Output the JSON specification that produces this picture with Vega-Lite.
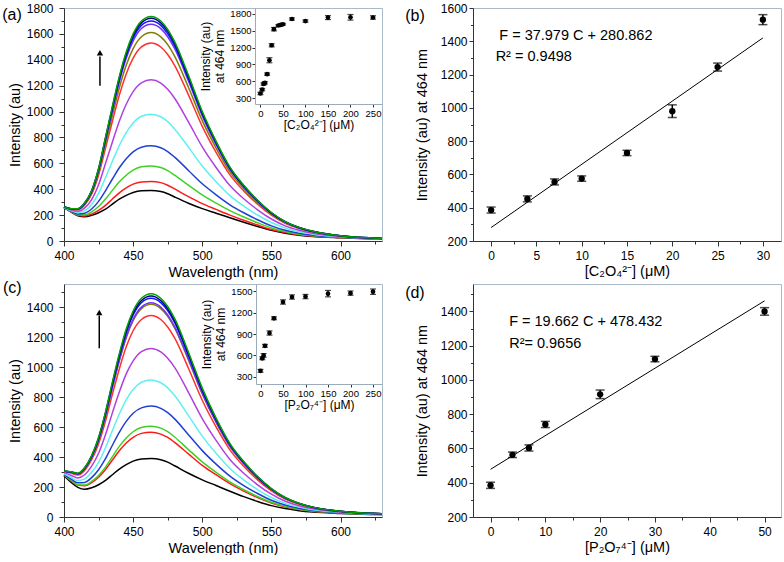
{
"$schema": "https://vega.github.io/schema/vega-lite/v6.json",
"padding": {"left": 1, "top": 1, "right": 0, "bottom": 0},
"datasets": {
"specA": [
{"w":400,"c01":258,"c02":258,"c03":259,"c04":260,"c05":261,"c06":262,"c07":264,"c08":264,"c09":265,"c10":265,"c11":265,"c12":265},
{"w":405,"c01":225,"c02":226,"c03":229,"c04":231,"c05":236,"c06":241,"c07":246,"c08":248,"c09":249,"c10":249,"c11":250,"c12":250},
{"w":410,"c01":195,"c02":198,"c03":203,"c04":209,"c05":219,"c06":230,"c07":242,"c08":245,"c09":248,"c10":249,"c11":249,"c12":250},
{"w":415,"c01":187,"c02":193,"c03":202,"c04":215,"c05":234,"c06":256,"c07":279,"c08":285,"c09":290,"c10":292,"c11":294,"c12":295},
{"w":420,"c01":198,"c02":208,"c03":225,"c04":247,"c05":282,"c06":320,"c07":361,"c08":372,"c09":381,"c10":385,"c11":388,"c12":390},
{"w":425,"c01":218,"c02":236,"c03":266,"c04":306,"c05":368,"c06":435,"c07":508,"c08":528,"c09":545,"c10":551,"c11":556,"c12":560},
{"w":430,"c01":246,"c02":275,"c03":324,"c04":388,"c05":489,"c06":598,"c07":716,"c08":749,"c09":775,"c10":786,"c11":794,"c12":800},
{"w":435,"c01":285,"c02":324,"c03":391,"c04":479,"c05":616,"c06":765,"c07":925,"c08":970,"c09":1006,"c10":1020,"c11":1032,"c12":1040},
{"w":440,"c01":323,"c02":372,"c03":457,"c04":566,"c05":738,"c06":925,"c07":1126,"c08":1182,"c09":1228,"c10":1245,"c11":1259,"c12":1270},
{"w":445,"c01":352,"c02":410,"c03":508,"c04":636,"c05":838,"c06":1056,"c07":1291,"c08":1357,"c09":1411,"c10":1431,"c11":1448,"c12":1460},
{"w":450,"c01":375,"c02":439,"c03":548,"c04":689,"c05":912,"c06":1154,"c07":1413,"c08":1486,"c09":1545,"c10":1568,"c11":1586,"c12":1600},
{"w":456,"c01":388,"c02":456,"c03":573,"c04":725,"c05":964,"c06":1222,"c07":1500,"c08":1578,"c09":1642,"c10":1666,"c11":1685,"c12":1700},
{"w":463,"c01":390,"c02":460,"c03":580,"c04":735,"c05":980,"c06":1245,"c07":1530,"c08":1610,"c09":1675,"c10":1700,"c11":1720,"c12":1735},
{"w":470,"c01":382,"c02":451,"c03":568,"c04":720,"c05":960,"c06":1220,"c07":1499,"c08":1577,"c09":1641,"c10":1666,"c11":1685,"c12":1700},
{"w":475,"c01":365,"c02":431,"c03":544,"c04":691,"c05":922,"c06":1172,"c07":1441,"c08":1517,"c09":1578,"c10":1602,"c11":1621,"c12":1635},
{"w":480,"c01":340,"c02":402,"c03":509,"c04":648,"c05":866,"c06":1103,"c07":1357,"c08":1428,"c09":1487,"c10":1509,"c11":1527,"c12":1540},
{"w":490,"c01":292,"c02":343,"c03":431,"c04":545,"c05":725,"c06":920,"c07":1129,"c08":1188,"c09":1236,"c10":1254,"c11":1269,"c12":1280},
{"w":500,"c01":250,"c02":289,"c03":356,"c04":442,"c05":579,"c06":727,"c07":886,"c08":930,"c09":967,"c10":981,"c11":992,"c12":1000},
{"w":510,"c01":215,"c02":244,"c03":293,"c04":357,"c05":458,"c06":568,"c07":685,"c08":718,"c09":745,"c10":756,"c11":764,"c12":770},
{"w":520,"c01":180,"c02":200,"c03":235,"c04":280,"c05":351,"c06":428,"c07":511,"c08":534,"c09":553,"c10":560,"c11":566,"c12":570},
{"w":530,"c01":145,"c02":160,"c03":185,"c04":218,"c05":270,"c06":326,"c07":387,"c08":404,"c09":417,"c10":423,"c11":427,"c12":430},
{"w":540,"c01":112,"c02":123,"c03":141,"c04":164,"c05":201,"c06":241,"c07":284,"c08":296,"c09":306,"c10":310,"c11":313,"c12":315},
{"w":550,"c01":82,"c02":89,"c03":101,"c04":117,"c05":143,"c06":170,"c07":199,"c08":207,"c09":214,"c10":216,"c11":218,"c12":220},
{"w":560,"c01":60,"c02":65,"c03":73,"c04":83,"c05":100,"c06":117,"c07":136,"c08":142,"c09":146,"c10":148,"c11":149,"c12":150},
{"w":570,"c01":45,"c02":48,"c03":53,"c04":60,"c05":71,"c06":83,"c07":96,"c08":99,"c09":102,"c10":103,"c11":104,"c12":105},
{"w":580,"c01":35,"c02":37,"c03":41,"c04":45,"c05":53,"c06":60,"c07":69,"c08":71,"c09":73,"c10":74,"c11":75,"c12":75},
{"w":600,"c01":25,"c02":26,"c03":27,"c04":29,"c05":32,"c06":35,"c07":38,"c08":39,"c09":39,"c10":40,"c11":40,"c12":40},
{"w":630,"c01":15,"c02":15,"c03":16,"c04":16,"c05":17,"c06":18,"c07":19,"c08":20,"c09":20,"c10":20,"c11":20,"c12":20}
],
"specC": [
{"w":400,"c01":275,"c02":280,"c03":281,"c04":285,"c05":290,"c06":296,"c07":303,"c08":305,"c09":305,"c10":306,"c11":307,"c12":307},
{"w":405,"c01":232,"c02":243,"c03":246,"c04":254,"c05":265,"c06":279,"c07":293,"c08":298,"c09":298,"c10":300,"c11":301,"c12":302},
{"w":410,"c01":198,"c02":213,"c03":216,"c04":228,"c05":243,"c06":261,"c07":280,"c08":286,"c09":287,"c10":289,"c11":291,"c12":292},
{"w":415,"c01":185,"c02":208,"c03":213,"c04":231,"c05":254,"c06":282,"c07":311,"c08":321,"c09":322,"c10":326,"c11":328,"c12":330},
{"w":420,"c01":195,"c02":229,"c03":237,"c04":263,"c05":298,"c06":339,"c07":382,"c08":396,"c09":398,"c10":404,"c11":407,"c12":410},
{"w":425,"c01":215,"c02":265,"c03":277,"c04":315,"c05":365,"c06":425,"c07":488,"c08":510,"c09":513,"c10":521,"c11":526,"c12":530},
{"w":430,"c01":244,"c02":317,"c03":333,"c04":389,"c05":462,"c06":549,"c07":640,"c08":671,"c09":675,"c10":688,"c11":694,"c12":700},
{"w":435,"c01":282,"c02":380,"c03":403,"c04":479,"c05":577,"c06":695,"c07":818,"c08":860,"c09":866,"c10":883,"c11":891,"c12":900},
{"w":440,"c01":320,"c02":442,"c03":471,"c04":565,"c05":687,"c06":834,"c07":988,"c08":1041,"c09":1048,"c10":1069,"c11":1079,"c12":1090},
{"w":445,"c01":350,"c02":494,"c03":527,"c04":638,"c05":782,"c06":955,"c07":1136,"c08":1197,"c09":1205,"c10":1230,"c11":1242,"c12":1255},
{"w":450,"c01":373,"c02":532,"c03":569,"c04":692,"c05":851,"c06":1042,"c07":1243,"c08":1311,"c09":1320,"c10":1348,"c11":1361,"c12":1375},
{"w":456,"c01":387,"c02":558,"c03":597,"c04":728,"c05":899,"c06":1104,"c07":1318,"c08":1391,"c09":1401,"c10":1431,"c11":1445,"c12":1460},
{"w":463,"c01":390,"c02":565,"c03":605,"c04":740,"c05":915,"c06":1125,"c07":1345,"c08":1420,"c09":1430,"c10":1460,"c11":1475,"c12":1490},
{"w":470,"c01":382,"c02":553,"c03":593,"c04":725,"c05":896,"c06":1102,"c07":1318,"c08":1391,"c09":1401,"c10":1431,"c11":1445,"c12":1460},
{"w":475,"c01":366,"c02":531,"c03":569,"c04":696,"c05":862,"c06":1060,"c07":1268,"c08":1339,"c09":1348,"c10":1377,"c11":1391,"c12":1405},
{"w":480,"c01":342,"c02":498,"c03":534,"c04":655,"c05":811,"c06":999,"c07":1195,"c08":1262,"c09":1271,"c10":1298,"c11":1311,"c12":1325},
{"w":490,"c01":292,"c02":421,"c03":450,"c04":549,"c05":677,"c06":832,"c07":993,"c08":1048,"c09":1056,"c10":1078,"c11":1089,"c12":1100},
{"w":500,"c01":248,"c02":345,"c03":368,"c04":443,"c05":540,"c06":657,"c07":779,"c08":821,"c09":826,"c10":843,"c11":851,"c12":860},
{"w":510,"c01":210,"c02":282,"c03":298,"c04":353,"c05":425,"c06":511,"c07":601,"c08":631,"c09":635,"c10":648,"c11":654,"c12":660},
{"w":520,"c01":172,"c02":223,"c03":234,"c04":273,"c05":324,"c06":384,"c07":448,"c08":470,"c09":473,"c10":481,"c11":486,"c12":490},
{"w":530,"c01":136,"c02":173,"c03":182,"c04":210,"c05":248,"c06":292,"c07":339,"c08":355,"c09":357,"c10":364,"c11":367,"c12":370},
{"w":540,"c01":104,"c02":130,"c03":137,"c04":157,"c05":183,"c06":215,"c07":248,"c08":259,"c09":261,"c10":266,"c11":268,"c12":270},
{"w":550,"c01":76,"c02":94,"c03":98,"c04":112,"c05":130,"c06":152,"c07":175,"c08":183,"c09":184,"c10":187,"c11":188,"c12":190},
{"w":560,"c01":56,"c02":68,"c03":71,"c04":80,"c05":91,"c06":105,"c07":120,"c08":125,"c09":126,"c10":128,"c11":129,"c12":130},
{"w":570,"c01":42,"c02":50,"c03":52,"c04":58,"c05":66,"c06":75,"c07":85,"c08":89,"c09":89,"c10":91,"c11":91,"c12":92},
{"w":580,"c01":33,"c02":38,"c03":40,"c04":44,"c05":49,"c06":55,"c07":62,"c08":64,"c09":64,"c10":65,"c11":66,"c12":66},
{"w":600,"c01":24,"c02":26,"c03":27,"c04":29,"c05":31,"c06":33,"c07":36,"c08":37,"c09":37,"c10":38,"c11":38,"c12":38},
{"w":630,"c01":16,"c02":17,"c03":17,"c04":18,"c05":19,"c06":20,"c07":21,"c08":22,"c09":22,"c10":22,"c11":22,"c12":22}
],
"insetA": [
{"c":0,"v":386,"e":20},{"c":4,"v":455,"e":20},{"c":7,"v":555,"e":20},{"c":10,"v":575,"e":20},{"c":15,"v":729,"e":20},{"c":20,"v":975,"e":45},{"c":25,"v":1240,"e":28},{"c":30,"v":1525,"e":30},{"c":40,"v":1590,"e":15},{"c":45,"v":1600,"e":15},{"c":50,"v":1612,"e":15},{"c":70,"v":1705,"e":20},{"c":100,"v":1668,"e":20},{"c":150,"v":1730,"e":35},{"c":200,"v":1735,"e":50},{"c":250,"v":1732,"e":30}
],
"insetC": [
{"c":0,"v":384,"e":20},{"c":4,"v":560,"e":20},{"c":7,"v":600,"e":25},{"c":10,"v":735,"e":20},{"c":20,"v":914,"e":30},{"c":30,"v":1120,"e":20},{"c":50,"v":1348,"e":30},{"c":70,"v":1418,"e":30},{"c":100,"v":1424,"e":30},{"c":150,"v":1465,"e":45},{"c":200,"v":1472,"e":30},{"c":250,"v":1492,"e":38}
],
"linB": [
{"c":0,"v":386,"e":18},{"c":4,"v":453,"e":18},{"c":7,"v":555,"e":18},{"c":10,"v":575,"e":16},{"c":15,"v":729,"e":16},{"c":20,"v":980,"e":38},{"c":25,"v":1245,"e":24},{"c":30,"v":1530,"e":30}
],
"fitB": [{"c":0,"v":280.862},{"c":30,"v":1420.232}],
"linD": [
{"c":0,"v":385,"e":18},{"c":4,"v":563,"e":16},{"c":7,"v":603,"e":18},{"c":10,"v":740,"e":18},{"c":20,"v":916,"e":25},{"c":30,"v":1122,"e":16},{"c":50,"v":1400,"e":22}
],
"fitD": [{"c":0,"v":478.432},{"c":50,"v":1461.532}]
},
"columns": 2,
"spacing": {"row": 0, "column": 18},
"concat": [
{
 "width": 318, "height": 233,
 "layer": [
  {"layer": [
   {"data": {"name": "specA"},
    "transform": [{"fold": ["c01","c02","c03","c04","c05","c06","c07","c08","c09","c10","c11","c12"], "as": ["curve","I"]}],
    "mark": {"type": "line", "interpolate": "monotone", "strokeWidth": 1.5},
    "encoding": {
     "x": {"field": "w", "type": "quantitative", "scale": {"domain": [400, 630], "nice": false, "zero": false},
           "axis": {"orient": "bottom", "title": "Wavelength (nm)", "values": [400,450,500,550,600], "tickCount": 30, "format": "d", "labelOverlap": false, "labelPadding": 4, "titlePadding": 4}},
     "y": {"field": "I", "type": "quantitative", "scale": {"domain": [0, 1800], "nice": false},
           "axis": {"orient": "left", "title": "Intensity (au)", "values": [0,200,400,600,800,1000,1200,1400,1600,1800], "tickCount": 30, "format": "d", "labelOverlap": false, "labelPadding": 6, "titlePadding": 4}},
     "color": {"field": "curve", "type": "nominal", "legend": null,
               "scale": {"domain": ["c01","c02","c03","c04","c05","c06","c07","c08","c09","c10","c11","c12"],
                         "range": ["#000000","#ff1a1a","#3fd024","#2040d0","#5ff0f0","#b040e0","#ff3030","#7f7f00","#7030ff","#1010ff","#000080","#00a000"]}}
    }},
   {"data": {"values": [{}]}, "mark": {"type": "rule", "strokeWidth": 1.5, "color": "black"},
    "encoding": {"x": {"datum": 426}, "y": {"datum": 1200}, "y2": {"datum": 1425}}},
   {"data": {"values": [{}]}, "mark": {"type": "point", "shape": "triangle-up", "filled": true, "color": "black", "size": 40, "opacity": 1},
    "encoding": {"x": {"datum": 426}, "y": {"datum": 1455}}},
   {"data": {"values": [{}]}, "mark": {"type": "text", "fontSize": 16, "align": "center", "baseline": "middle", "color": "black"},
    "encoding": {"x": {"datum": 362.4}, "y": {"datum": 1745}, "text": {"value": "(a)"}}}
  ]},
  {"data": {"name": "insetA"},
   "encoding": {
    "x": {"field": "c", "type": "quantitative", "scale": {"domain": [-12, 270], "range": [191, 318], "nice": false, "zero": false},
          "axis": {"orient": "bottom", "offset": -137, "title": "[C₂O₄²⁻] (μM)", "values": [0,50,100,150,200,250], "tickCount": 30, "format": "d", "labelOverlap": false, "labelFontSize": 9.5, "titleFontSize": 12, "tickSize": 3, "labelPadding": 1, "titlePadding": 2, "domainColor": "#9aabba"}},
    "y": {"field": "v", "type": "quantitative", "scale": {"domain": [200, 1900], "range": [96, 0], "nice": false, "zero": false},
          "axis": {"orient": "left", "offset": -191, "title": ["Intensity (au)", "at 464 nm"], "values": [300,600,900,1200,1500,1800], "tickCount": 30, "format": "d", "labelOverlap": false, "labelFontSize": 9.5, "titleFontSize": 12, "tickSize": 3, "labelPadding": 1, "titlePadding": 3, "domainColor": "#9aabba"}}
   },
   "layer": [
    {"mark": {"type": "errorbar", "ticks": {"size": 6, "thickness": 1.2, "color": "black"}, "rule": {"strokeWidth": 1.2, "color": "black"}},
     "encoding": {"yError": {"field": "e"}}},
    {"mark": {"type": "point", "filled": true, "color": "black", "size": 22, "opacity": 1}}
   ]},
  {"data": {"values": [{}]}, "mark": {"type": "point", "opacity": 0},
   "encoding": {
    "x": {"datum": 400, "type": "quantitative", "scale": {"domain": [400, 630], "nice": false, "zero": false},
          "axis": {"orient": "bottom", "values": [425,475,525,575,625], "tickCount": 30, "labels": false, "domain": false, "title": null, "tickSize": 3}},
    "y": {"datum": 0, "type": "quantitative", "scale": {"domain": [0, 1800], "nice": false, "zero": false},
          "axis": {"orient": "left", "values": [100,300,500,700,900,1100,1300,1500,1700], "tickCount": 30, "labels": false, "domain": false, "title": null, "tickSize": 3}}
   }}
 ],
 "resolve": {"scale": {"x": "independent", "y": "independent"}}
},
{
 "width": 308, "height": 233,
 "layer": [
  {"layer": [
   {"data": {"name": "fitB"}, "mark": {"type": "line", "color": "black", "strokeWidth": 1},
    "encoding": {
     "x": {"field": "c", "type": "quantitative", "scale": {"domain": [-2, 32], "nice": false, "zero": false},
           "axis": {"orient": "bottom", "title": "[C₂O₄²⁻] (μM)", "values": [0,5,10,15,20,25,30], "tickCount": 30, "format": "d", "labelOverlap": false, "labelPadding": 4, "titlePadding": 3}},
     "y": {"field": "v", "type": "quantitative", "scale": {"domain": [200, 1600], "nice": false, "zero": false},
           "axis": {"orient": "left", "title": "Intensity (au) at 464 nm", "values": [200,400,600,800,1000,1200,1400,1600], "tickCount": 30, "format": "d", "labelOverlap": false, "tickSize": 4, "labelPadding": 2, "titlePadding": 11}}
    }},
   {"data": {"name": "linB"},
    "encoding": {"x": {"field": "c", "type": "quantitative", "title": "[C₂O₄²⁻] (μM)"}, "y": {"field": "v", "type": "quantitative", "title": "Intensity (au) at 464 nm"}},
    "layer": [
     {"mark": {"type": "errorbar", "ticks": {"size": 9, "thickness": 1.5, "color": "black"}, "rule": {"strokeWidth": 1.5, "color": "black"}},
      "encoding": {"yError": {"field": "e"}}},
     {"mark": {"type": "point", "filled": true, "color": "black", "size": 40, "opacity": 1}}
    ]},
   {"data": {"values": [{}]}, "mark": {"type": "text", "fontSize": 14.5, "align": "left", "baseline": "middle", "color": "black"},
    "encoding": {"x": {"datum": 0.9}, "y": {"datum": 1432}, "text": {"value": "F = 37.979 C + 280.862"}}},
   {"data": {"values": [{}]}, "mark": {"type": "text", "fontSize": 14.5, "align": "left", "baseline": "middle", "color": "black"},
    "encoding": {"x": {"datum": 0.5}, "y": {"datum": 1307}, "text": {"value": "R² = 0.9498"}}},
   {"data": {"values": [{}]}, "mark": {"type": "text", "fontSize": 16, "align": "center", "baseline": "middle", "color": "black"},
    "encoding": {"x": {"datum": -8.4}, "y": {"datum": 1552}, "text": {"value": "(b)"}}}
  ]},
  {"data": {"values": [{}]}, "mark": {"type": "point", "opacity": 0},
   "encoding": {
    "x": {"datum": 0, "type": "quantitative", "scale": {"domain": [-2, 32], "nice": false, "zero": false},
          "axis": {"orient": "bottom", "values": [2.5,7.5,12.5,17.5,22.5,27.5], "tickCount": 30, "labels": false, "domain": false, "title": null, "tickSize": 3}},
    "y": {"datum": 400, "type": "quantitative", "scale": {"domain": [200, 1600], "nice": false, "zero": false},
          "axis": {"orient": "left", "values": [300,500,700,900,1100,1300,1500], "tickCount": 30, "labels": false, "domain": false, "title": null, "tickSize": 2.5}}
   }}
 ],
 "resolve": {"scale": {"x": "independent", "y": "independent"}}
},
{
 "width": 318, "height": 233,
 "layer": [
  {"layer": [
   {"data": {"name": "specC"},
    "transform": [{"fold": ["c01","c02","c03","c04","c05","c06","c07","c08","c09","c10","c11","c12"], "as": ["curve","I"]}],
    "mark": {"type": "line", "interpolate": "monotone", "strokeWidth": 1.5},
    "encoding": {
     "x": {"field": "w", "type": "quantitative", "scale": {"domain": [400, 630], "nice": false, "zero": false},
           "axis": {"orient": "bottom", "title": "Wavelength (nm)", "values": [400,450,500,550,600], "tickCount": 30, "format": "d", "labelOverlap": false, "labelPadding": 4, "titlePadding": 4}},
     "y": {"field": "I", "type": "quantitative", "scale": {"domain": [0, 1555], "nice": false},
           "axis": {"orient": "left", "title": "Intensity (au)", "values": [0,200,400,600,800,1000,1200,1400], "tickCount": 30, "format": "d", "labelOverlap": false, "labelPadding": 6, "titlePadding": 4}},
     "color": {"field": "curve", "type": "nominal", "legend": null,
               "scale": {"domain": ["c01","c02","c03","c04","c05","c06","c07","c08","c09","c10","c11","c12"],
                         "range": ["#000000","#ff1a1a","#3fd024","#2040d0","#5ff0f0","#c040f0","#ff3030","#7f7f00","#1010ff","#000070","#301010","#00a000"]}}
    }},
   {"data": {"values": [{}]}, "mark": {"type": "rule", "strokeWidth": 1.5, "color": "black"},
    "encoding": {"x": {"datum": 425.5}, "y": {"datum": 1126}, "y2": {"datum": 1345}}},
   {"data": {"values": [{}]}, "mark": {"type": "point", "shape": "triangle-up", "filled": true, "color": "black", "size": 40, "opacity": 1},
    "encoding": {"x": {"datum": 425.5}, "y": {"datum": 1365}}},
   {"data": {"values": [{}]}, "mark": {"type": "text", "fontSize": 16, "align": "center", "baseline": "middle", "color": "black"},
    "encoding": {"x": {"datum": 362.6}, "y": {"datum": 1529}, "text": {"value": "(c)"}}}
  ]},
  {"data": {"name": "insetC"},
   "encoding": {
    "x": {"field": "c", "type": "quantitative", "scale": {"domain": [-10, 270], "range": [192, 318], "nice": false, "zero": false},
          "axis": {"orient": "bottom", "offset": -133, "title": "[P₂O₇⁴⁻] (μM)", "values": [0,50,100,150,200,250], "tickCount": 30, "format": "d", "labelOverlap": false, "labelFontSize": 9.5, "titleFontSize": 12, "tickSize": 3, "labelPadding": 1, "titlePadding": 2, "domainColor": "#9aabba"}},
    "y": {"field": "v", "type": "quantitative", "scale": {"domain": [200, 1600], "range": [100, 0], "nice": false, "zero": false},
          "axis": {"orient": "left", "offset": -192, "title": ["Intensity (au)", "at 464 nm"], "values": [300,600,900,1200,1500], "tickCount": 30, "format": "d", "labelOverlap": false, "labelFontSize": 9.5, "titleFontSize": 12, "tickSize": 3, "labelPadding": 1, "titlePadding": 3, "domainColor": "#9aabba"}}
   },
   "layer": [
    {"mark": {"type": "errorbar", "ticks": {"size": 6, "thickness": 1.2, "color": "black"}, "rule": {"strokeWidth": 1.2, "color": "black"}},
     "encoding": {"yError": {"field": "e"}}},
    {"mark": {"type": "point", "filled": true, "color": "black", "size": 22, "opacity": 1}}
   ]},
  {"data": {"values": [{}]}, "mark": {"type": "point", "opacity": 0},
   "encoding": {
    "x": {"datum": 400, "type": "quantitative", "scale": {"domain": [400, 630], "nice": false, "zero": false},
          "axis": {"orient": "bottom", "values": [425,475,525,575,625], "tickCount": 30, "labels": false, "domain": false, "title": null, "tickSize": 3}},
    "y": {"datum": 0, "type": "quantitative", "scale": {"domain": [0, 1555], "nice": false, "zero": false},
          "axis": {"orient": "left", "values": [100,300,500,700,900,1100,1300,1500], "tickCount": 30, "labels": false, "domain": false, "title": null, "tickSize": 3}}
   }}
 ],
 "resolve": {"scale": {"x": "independent", "y": "independent"}}
},
{
 "width": 308, "height": 233,
 "layer": [
  {"layer": [
   {"data": {"name": "fitD"}, "mark": {"type": "line", "color": "black", "strokeWidth": 1},
    "encoding": {
     "x": {"field": "c", "type": "quantitative", "scale": {"domain": [-3.2, 53], "nice": false, "zero": false},
           "axis": {"orient": "bottom", "title": "[P₂O₇⁴⁻] (μM)", "values": [0,10,20,30,40,50], "tickCount": 30, "format": "d", "labelOverlap": false, "labelPadding": 4, "titlePadding": 3}},
     "y": {"field": "v", "type": "quantitative", "scale": {"domain": [200, 1560], "nice": false, "zero": false},
           "axis": {"orient": "left", "title": "Intensity (au) at 464 nm", "values": [200,400,600,800,1000,1200,1400], "tickCount": 30, "format": "d", "labelOverlap": false, "tickSize": 4, "labelPadding": 2, "titlePadding": 11}}
    }},
   {"data": {"name": "linD"},
    "encoding": {"x": {"field": "c", "type": "quantitative", "title": "[P₂O₇⁴⁻] (μM)"}, "y": {"field": "v", "type": "quantitative", "title": "Intensity (au) at 464 nm"}},
    "layer": [
     {"mark": {"type": "errorbar", "ticks": {"size": 9, "thickness": 1.5, "color": "black"}, "rule": {"strokeWidth": 1.5, "color": "black"}},
      "encoding": {"yError": {"field": "e"}}},
     {"mark": {"type": "point", "filled": true, "color": "black", "size": 40, "opacity": 1}}
    ]},
   {"data": {"values": [{}]}, "mark": {"type": "text", "fontSize": 14.5, "align": "left", "baseline": "middle", "color": "black"},
    "encoding": {"x": {"datum": 3.4}, "y": {"datum": 1336}, "text": {"value": "F = 19.662 C + 478.432"}}},
   {"data": {"values": [{}]}, "mark": {"type": "text", "fontSize": 14.5, "align": "left", "baseline": "middle", "color": "black"},
    "encoding": {"x": {"datum": 3.4}, "y": {"datum": 1211}, "text": {"value": "R²= 0.9656"}}},
   {"data": {"values": [{}]}, "mark": {"type": "text", "fontSize": 16, "align": "center", "baseline": "middle", "color": "black"},
    "encoding": {"x": {"datum": -13.8}, "y": {"datum": 1510}, "text": {"value": "(d)"}}}
  ]},
  {"data": {"values": [{}]}, "mark": {"type": "point", "opacity": 0},
   "encoding": {
    "x": {"datum": 0, "type": "quantitative", "scale": {"domain": [-3.2, 53], "nice": false, "zero": false},
          "axis": {"orient": "bottom", "values": [5,15,25,35,45], "tickCount": 30, "labels": false, "domain": false, "title": null, "tickSize": 3}},
    "y": {"datum": 400, "type": "quantitative", "scale": {"domain": [200, 1560], "nice": false, "zero": false},
          "axis": {"orient": "left", "values": [300,500,700,900,1100,1300,1500], "tickCount": 30, "labels": false, "domain": false, "title": null, "tickSize": 2.5}}
   }}
 ],
 "resolve": {"scale": {"x": "independent", "y": "independent"}}
}
],
"config": {
 "font": "Liberation Sans",
 "view": {"stroke": "#a9b9c7", "strokeWidth": 1},
 "axis": {"grid": false, "labelFont": "Liberation Sans", "titleFont": "Liberation Sans", "labelFontSize": 12, "titleFontSize": 14.5, "titleFontWeight": "normal", "labelColor": "#000", "titleColor": "#000", "domainColor": "#333", "tickColor": "#333", "labelFlush": false, "labelOverlap": false, "tickSize": 5},
 "text": {"font": "Liberation Sans"}
}
}
